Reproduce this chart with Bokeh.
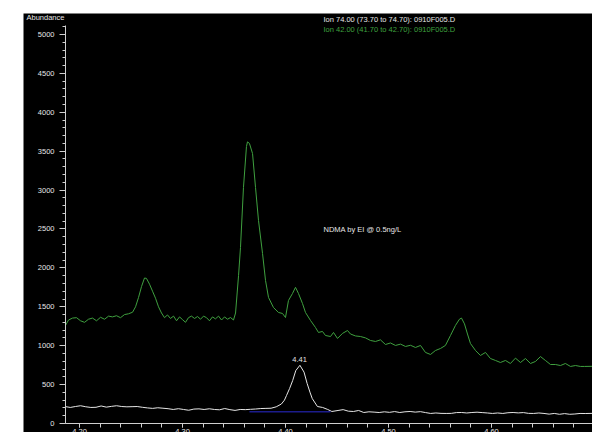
from bokeh.plotting import figure
from bokeh.models import Label, SingleIntervalTicker, Spacer, Range1d, NumeralTickFormatter
from bokeh.layouts import column, row
from bokeh.embed import file_html
from bokeh.resources import INLINE

# ---------------- data ----------------
ion42_time = [4.1864, 4.1893, 4.1932, 4.1971, 4.2010, 4.2049, 4.2087, 4.2126, 4.2165, 4.2204,
              4.2243, 4.2282, 4.2320, 4.2359, 4.2398, 4.2437, 4.2476, 4.2515, 4.2544, 4.2573,
              4.2602, 4.2631, 4.2650, 4.2680, 4.2709, 4.2738, 4.2767, 4.2796, 4.2825, 4.2854,
              4.2883, 4.2913, 4.2942, 4.2971, 4.3000, 4.3029, 4.3058, 4.3087, 4.3117, 4.3146,
              4.3175, 4.3204, 4.3233, 4.3262, 4.3291, 4.3320, 4.3350, 4.3379, 4.3408, 4.3437,
              4.3466, 4.3495, 4.3515, 4.3544, 4.3563, 4.3592, 4.3621, 4.3631, 4.3650, 4.3680,
              4.3709, 4.3738, 4.3777, 4.3806, 4.3835, 4.3883, 4.3932, 4.3971, 4.4000, 4.4029,
              4.4068, 4.4097, 4.4126, 4.4165, 4.4194, 4.4243, 4.4291, 4.4320, 4.4359, 4.4388,
              4.4437, 4.4466, 4.4505, 4.4553, 4.4602, 4.4631, 4.4680, 4.4728, 4.4777, 4.4825,
              4.4874, 4.4922, 4.4971, 4.5019, 4.5068, 4.5117, 4.5165, 4.5214, 4.5262, 4.5311,
              4.5359, 4.5408, 4.5456, 4.5505, 4.5553, 4.5602, 4.5650, 4.5689, 4.5709, 4.5738,
              4.5767, 4.5796, 4.5845, 4.5893, 4.5942, 4.5990, 4.6039, 4.6087, 4.6136, 4.6184,
              4.6233, 4.6282, 4.6330, 4.6379, 4.6427, 4.6476, 4.6524, 4.6573, 4.6621, 4.6670,
              4.6718, 4.6767, 4.6816, 4.6864, 4.6903, 4.6981]
ion42_abund = [1260, 1330, 1355, 1360, 1320, 1300, 1340, 1355, 1320, 1365,
               1340, 1380, 1370, 1385, 1360, 1400, 1410, 1430, 1500, 1620,
               1760, 1870, 1865, 1790, 1700, 1610, 1500, 1420, 1360, 1395,
               1350, 1380, 1320, 1370, 1335, 1300, 1360, 1380, 1350, 1375,
               1340, 1380, 1360, 1320, 1370, 1345, 1380, 1330, 1370, 1340,
               1362, 1330, 1420, 1900, 2262, 3033, 3560, 3620, 3600, 3470,
               3033, 2609, 2185, 1838, 1620, 1491, 1427, 1414, 1362, 1581,
               1671, 1750, 1671, 1542, 1427, 1324, 1234, 1170, 1183, 1131,
               1118, 1170, 1093, 1157, 1195, 1150, 1125, 1118, 1100, 1067,
               1054, 1075, 1015, 1035, 1003, 1020, 990, 1005, 977, 1003,
               913, 887, 938, 964, 1003, 1131, 1260, 1340, 1355, 1280,
               1150, 1028, 938, 874, 913, 835, 810, 784, 810, 771,
               840, 784, 835, 771, 797, 860, 810, 758, 758, 745,
               771, 733, 745, 733, 733, 735]

ion74_time = [4.186, 4.191, 4.196, 4.201, 4.206, 4.211, 4.216, 4.221, 4.226, 4.231,
              4.236, 4.241, 4.246, 4.251, 4.256, 4.261, 4.266, 4.271, 4.276, 4.281,
              4.286, 4.291, 4.296, 4.301, 4.306, 4.311, 4.316, 4.321, 4.326, 4.331,
              4.336, 4.341, 4.346, 4.351, 4.356, 4.361, 4.366, 4.371, 4.376, 4.381,
              4.386, 4.391,
              4.396, 4.399, 4.401, 4.404, 4.407, 4.410, 4.414, 4.418, 4.421, 4.424,
              4.426, 4.431, 4.436, 4.441, 4.445,
              4.451, 4.456, 4.461, 4.466, 4.471, 4.476, 4.481, 4.486, 4.491, 4.496,
              4.501, 4.506, 4.511, 4.516, 4.521, 4.526, 4.531, 4.536, 4.541, 4.546,
              4.551, 4.556, 4.561, 4.566, 4.571, 4.576, 4.581, 4.586, 4.591, 4.596,
              4.601, 4.606, 4.611, 4.616, 4.621, 4.626, 4.631, 4.636, 4.641, 4.646,
              4.651, 4.656, 4.661, 4.666, 4.671, 4.676, 4.681, 4.686, 4.691, 4.698]
ion74_abund = [218, 206, 218, 228, 215, 206, 208, 225, 210, 220,
               228, 218, 214, 216, 218, 208, 200, 194, 202, 196,
               190, 180, 190, 180, 170, 185, 188, 180, 189, 180,
               176, 192, 178, 168, 180, 178, 182, 186, 192, 194,
               196, 214,
               250, 300, 360, 450, 553, 680, 748, 660, 515, 393,
               320, 218, 206, 180, 154,
               167, 178, 158, 154, 167, 141, 150, 146, 141, 150,
               143, 153, 141, 150, 154, 146, 152, 140, 129, 135,
               130, 129, 130, 140, 141, 135, 141, 145, 140, 135,
               129, 135, 129, 138, 141, 136, 140, 130, 129, 135,
               129, 120, 129, 118, 127, 118, 122, 129, 128, 130]

baseline_time = [4.3650, 4.4437]
baseline_abund = [150, 150]

peak_rt_label = "4.41"
peak_rt = 4.4136
peak_label_abund = 823

legend_white = "Ion  74.00 (73.70 to 74.70): 0910F005.D"
legend_green = "Ion  42.00 (41.70 to 42.70): 0910F005.D"
note_text = "NDMA by EI @ 0.5ng/L"
y_title = "Abundance"

data_start = 4.1864          # where the traces / axes begin
x_start, x_end = 4.1456, 4.6981
y_start, y_end = -116, 5270

# ---------------- styling ----------------
BG = "#000000"
WHITE = "#e6e6e6"
GREEN = "#3fa03f"
AXIS = "#cfcfcf"
FONT = "Liberation Sans"
FS = "7.5px"

p = figure(width=569, height=419, output_backend="svg", toolbar_location=None,
           x_range=Range1d(x_start, x_end), y_range=Range1d(y_start, y_end),
           background_fill_color=BG, border_fill_color=BG,
           min_border_left=0, min_border_right=0, min_border_top=0, min_border_bottom=0)
p.outline_line_color = None
p.xgrid.visible = False
p.ygrid.visible = False

# y axis
p.yaxis.fixed_location = data_start
p.yaxis.ticker = SingleIntervalTicker(interval=500, num_minor_ticks=5)
p.yaxis.bounds = (0, 5120)
p.yaxis.axis_line_color = AXIS
p.yaxis.major_tick_line_color = AXIS
p.yaxis.minor_tick_line_color = AXIS
p.yaxis.major_tick_out = 6
p.yaxis.major_tick_in = 0
p.yaxis.minor_tick_out = 3
p.yaxis.minor_tick_in = 0
p.yaxis.major_label_standoff = 5
p.yaxis.major_label_text_font = FONT
p.yaxis.major_label_text_font_size = FS
p.yaxis.major_label_text_color = WHITE

# x axis (its labels run off the bottom edge, as in the reference)
p.xaxis.fixed_location = 0
p.xaxis.ticker = SingleIntervalTicker(interval=0.1, num_minor_ticks=5)
p.xaxis.formatter = NumeralTickFormatter(format="0.00")
p.xaxis.bounds = (data_start, x_end)
p.xaxis.axis_line_color = AXIS
p.xaxis.major_tick_line_color = AXIS
p.xaxis.minor_tick_line_color = AXIS
p.xaxis.major_tick_out = 4
p.xaxis.major_tick_in = 0
p.xaxis.minor_tick_out = 4
p.xaxis.minor_tick_in = 0
p.xaxis.major_label_standoff = 2
p.xaxis.major_label_text_font = FONT
p.xaxis.major_label_text_font_size = FS
p.xaxis.major_label_text_color = WHITE

# traces
p.line(ion74_time, ion74_abund, line_color=WHITE, line_width=1)
p.line(baseline_time, baseline_abund, line_color="#1c1c8c", line_width=1.5)
p.line(ion42_time, ion42_abund, line_color=GREEN, line_width=1)

# texts
def add_label(x, y, text, color=WHITE, align="left"):
    p.add_layout(Label(x=x, y=y, text=text, text_color=color, text_font=FONT,
                       text_font_size=FS, text_align=align, text_baseline="middle"))

add_label(4.1485, 5219, y_title)
add_label(4.4369, 5193, legend_white)
add_label(4.4369, 5064, legend_green, color=GREEN)
add_label(4.4369, 2494, note_text)
add_label(peak_rt, peak_label_abund, peak_rt_label, align="center")

layout = column(Spacer(height=13), row(Spacer(width=23), p))
open("out.html", "w").write(file_html(layout, INLINE))
